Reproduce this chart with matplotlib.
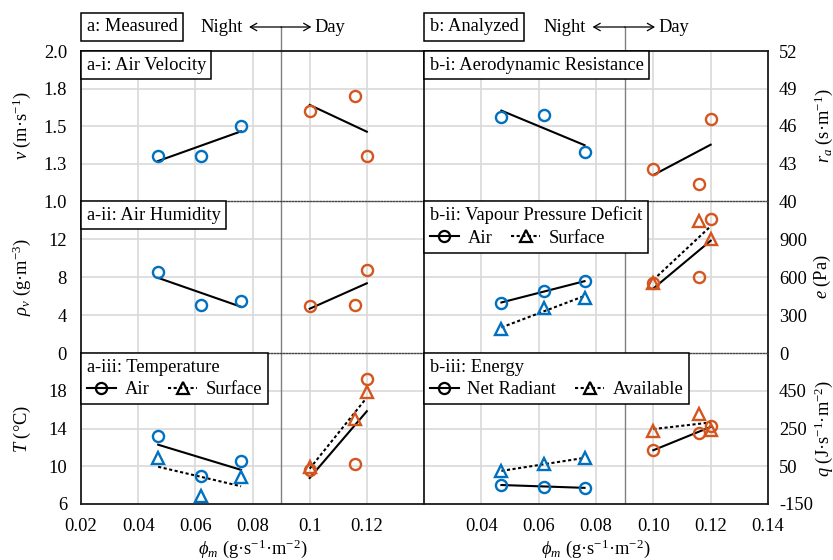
import numpy as np
import matplotlib.pyplot as plt
from matplotlib.lines import Line2D

FS = 13.3
plt.rcParams['font.family'] = ['Liberation Serif', 'DejaVu Serif']
plt.rcParams['mathtext.fontset'] = 'custom'
plt.rcParams['mathtext.rm'] = 'Liberation Serif'
plt.rcParams['mathtext.it'] = 'Liberation Serif:italic'
plt.rcParams['font.size'] = FS

BLUE = '#0070C0'
ORANGE = '#D4561F'
GRID = '#D9D9D9'
DOT = (0, (1.5, 1.2))

# mass flux phi_m (g s-1 m-2), night runs and day runs
x_night = [0.047, 0.062, 0.076]
x_day = [0.100, 0.116, 0.120]

# a-i air velocity
v_night = [1.30, 1.30, 1.50]
v_day = [1.60, 1.70, 1.30]
# a-ii air humidity
rho_night = [8.5, 5.1, 5.5]
rho_day = [5.0, 5.1, 8.7]
# a-iii temperature
t_air_night = [13.2, 9.0, 10.6]
t_surf_night = [10.9, 6.9, 8.9]
t_air_day = [9.6, 10.2, 19.2]
t_surf_day = [9.9, 15.0, 17.9]
# b-i aerodynamic resistance
ra_night = [46.7, 46.9, 43.9]
ra_day = [42.6, 41.4, 46.6]
# b-ii vapour pressure deficit
e_air_night = [397, 490, 565]
e_surf_night = [189, 357, 437]
e_air_day = [552, 597, 1058]
e_surf_day = [552, 1045, 898]
# b-iii energy
q_net_night = [-49, -58, -64]
q_avail_night = [26, 60, 95]
q_net_day = [136, 228, 263]
q_avail_day = [237, 325, 242]

left_xticks = [0.02, 0.04, 0.06, 0.08, 0.10, 0.12]
left_xlabels = ['0.02', '0.04', '0.06', '0.08', '0.1', '0.12']
right_xticks = [0.04, 0.06, 0.08, 0.10, 0.12, 0.14]
right_xlabels = ['0.04', '0.06', '0.08', '0.10', '0.12', '0.14']

v_ticks = [1.0, 1.25, 1.5, 1.75, 2.0]
v_labels = ['1.0', '1.3', '1.5', '1.8', '2.0']
rho_ticks = [0, 4, 8, 12]
t_ticks = [6, 10, 14, 18]
ra_ticks = [40, 43, 46, 49, 52]
e_ticks = [0, 300, 600, 900]
q_ticks = [-150, 50, 250, 450]

fig = plt.figure(figsize=(8.33, 5.6), dpi=100)
W, H = 833, 560
rows = [(51, 201), (201, 353), (353, 504)]
cols = [(81, 424), (424, 768)]
PAD = 0.3 * FS


def make_ax(col, row):
    x0, x1 = cols[col]
    y0, y1 = rows[row]
    return fig.add_axes([x0 / W, 1 - y1 / H, (x1 - x0) / W, (y1 - y0) / H])


def setup(ax, side, row, ylim, yticks, ylabels, ylab):
    ax.set_xlim(0.02, 0.14)
    ax.set_ylim(*ylim)
    for gx in [0.04, 0.06, 0.08, 0.10, 0.12]:
        ax.axvline(gx, color=GRID, lw=1.2, zorder=0)
    for gy in yticks:
        if ylim[0] < gy < ylim[1]:
            ax.axhline(gy, color=GRID, lw=1.2, zorder=0)
    ax.axvline(0.09, color='#808080', lw=1.0, zorder=1)

    for s in ax.spines.values():
        s.set_color('#1a1a1a')
        s.set_linewidth(1.3)
    ax.spines['bottom'].set_visible(row == 2)
    if row > 0:
        ax.spines['top'].set_linestyle((0, (1, 1.2)))
        ax.spines['top'].set_linewidth(1.0)
        ax.spines['top'].set_color('#444444')
    if side == 0:
        ax.spines['right'].set_visible(False)

    ax.set_yticks(yticks, ylabels)
    if side == 0:
        ax.tick_params(axis='y', length=0, pad=10)
        ax.set_ylabel(ylab)
        ax.yaxis.set_label_coords(-0.14, 0.5)
        xt, xl = left_xticks, left_xlabels
    else:
        ax.yaxis.tick_right()
        ax.tick_params(axis='y', length=0, pad=8)
        ax.yaxis.set_label_position('right')
        ax.set_ylabel(ylab)
        ax.yaxis.set_label_coords(1.128, 0.5)
        xt, xl = right_xticks, right_xlabels
    ax.set_xticks(xt, xl)
    ax.tick_params(axis='x', length=0, pad=10, labelbottom=(row == 2))
    if row == 2:
        ax.set_xlabel(r'$\phi_m$ (g·s$^{-1}$·m$^{-2}$)', labelpad=2)


def scatter_fit(ax, x, y, color, marker='o', ls='-'):
    ms = 8 if marker == 'o' else 8.5
    ax.plot(x, y, ls='none', marker=marker, ms=ms, mfc='none', mec=color,
            mew=1.7, zorder=4, clip_on=False)
    # least-squares trend over each group, as in the source chart
    k, b = np.polyfit(x, y, 1)
    xe = np.array([x[0], x[-1]])
    ax.plot(xe, k * xe + b, color='black', lw=1.5, ls=ls, zorder=3)


def tag(ax, text):
    ax.annotate(text, xy=(0, 1), xycoords='axes fraction', xytext=(PAD, -PAD),
                textcoords='offset points', ha='left', va='top', zorder=10,
                bbox=dict(boxstyle='square,pad=0.3', fc='white', ec='black', lw=1.1))


def tag_legend(ax, title, labels):
    h = [Line2D([], [], color='black', lw=1.5, marker='o', ms=8, mfc='none', mew=1.6),
         Line2D([], [], color='black', lw=1.5, ls=DOT, marker='^', ms=8, mfc='none', mew=1.6)]
    leg = ax.legend(h, labels, title=title, loc='upper left', bbox_to_anchor=(0, 1),
                    borderaxespad=0, ncol=2, frameon=True, fancybox=False,
                    edgecolor='black', framealpha=1, alignment='left',
                    handlelength=1.6, handletextpad=0.45, columnspacing=1.0,
                    borderpad=0.3, labelspacing=0.3, title_fontsize=FS)
    leg.get_frame().set_linewidth(1.1)
    leg.set_zorder(10)


def header(ax, text):
    ax.annotate(text, xy=(0, 1.163), xycoords='axes fraction', xytext=(PAD, 0),
                textcoords='offset points', ha='left', va='center',
                bbox=dict(boxstyle='square,pad=0.3', fc='white', ec='black', lw=1.1))
    tr = ax.get_xaxis_transform()
    ax.plot([0.09, 0.09], [1, 1.16], color='#808080', lw=1.0, transform=tr, clip_on=False)
    for end in (0.0788, 0.1006):
        ax.annotate('', xy=(end, 1.16), xycoords=tr, xytext=(0.09, 1.16), textcoords=tr,
                    arrowprops=dict(arrowstyle='->,head_length=0.35,head_width=0.2',
                                    lw=0.9, color='black', shrinkA=0, shrinkB=0))
    ax.text(0.0765, 1.16, 'Night', transform=tr, ha='right', va='center')
    ax.text(0.1017, 1.16, 'Day', transform=tr, ha='left', va='center')


# ---- a: measured ----
ax = make_ax(0, 0)
setup(ax, 0, 0, (1.0, 2.0), v_ticks, v_labels, r'$v$ (m·s$^{-1}$)')
scatter_fit(ax, x_night, v_night, BLUE)
scatter_fit(ax, x_day, v_day, ORANGE)
tag(ax, 'a-i: Air Velocity')
header(ax, 'a: Measured')

ax = make_ax(0, 1)
setup(ax, 0, 1, (0, 16), rho_ticks, [str(t) for t in rho_ticks], r'$\rho_v$ (g·m$^{-3}$)')
scatter_fit(ax, x_night, rho_night, BLUE)
scatter_fit(ax, x_day, rho_day, ORANGE)
tag(ax, 'a-ii: Air Humidity')

ax = make_ax(0, 2)
setup(ax, 0, 2, (6, 22), t_ticks, [str(t) for t in t_ticks], r'$T$ (°C)')
scatter_fit(ax, x_night, t_air_night, BLUE)
scatter_fit(ax, x_night, t_surf_night, BLUE, '^', DOT)
scatter_fit(ax, x_day, t_air_day, ORANGE)
scatter_fit(ax, x_day, t_surf_day, ORANGE, '^', DOT)
tag_legend(ax, 'a-iii: Temperature', ['Air', 'Surface'])

# ---- b: analyzed ----
ax = make_ax(1, 0)
setup(ax, 1, 0, (40, 52), ra_ticks, [str(t) for t in ra_ticks], r'$r_a$ (s·m$^{-1}$)')
scatter_fit(ax, x_night, ra_night, BLUE)
scatter_fit(ax, x_day, ra_day, ORANGE)
tag(ax, 'b-i: Aerodynamic Resistance')
header(ax, 'b: Analyzed')

ax = make_ax(1, 1)
setup(ax, 1, 1, (0, 1200), e_ticks, [str(t) for t in e_ticks], r'$e$ (Pa)')
scatter_fit(ax, x_night, e_air_night, BLUE)
scatter_fit(ax, x_night, e_surf_night, BLUE, '^', DOT)
scatter_fit(ax, x_day, e_air_day, ORANGE)
scatter_fit(ax, x_day, e_surf_day, ORANGE, '^', DOT)
tag_legend(ax, 'b-ii: Vapour Pressure Deficit', ['Air', 'Surface'])

ax = make_ax(1, 2)
setup(ax, 1, 2, (-150, 650), q_ticks, [str(t) for t in q_ticks], r'$q$ (J·s$^{-1}$·m$^{-2}$)')
scatter_fit(ax, x_night, q_net_night, BLUE)
scatter_fit(ax, x_night, q_avail_night, BLUE, '^', DOT)
scatter_fit(ax, x_day, q_net_day, ORANGE)
scatter_fit(ax, x_day, q_avail_day, ORANGE, '^', DOT)
tag_legend(ax, 'b-iii: Energy', ['Net Radiant', 'Available'])

fig.savefig('out.png', dpi=100)
